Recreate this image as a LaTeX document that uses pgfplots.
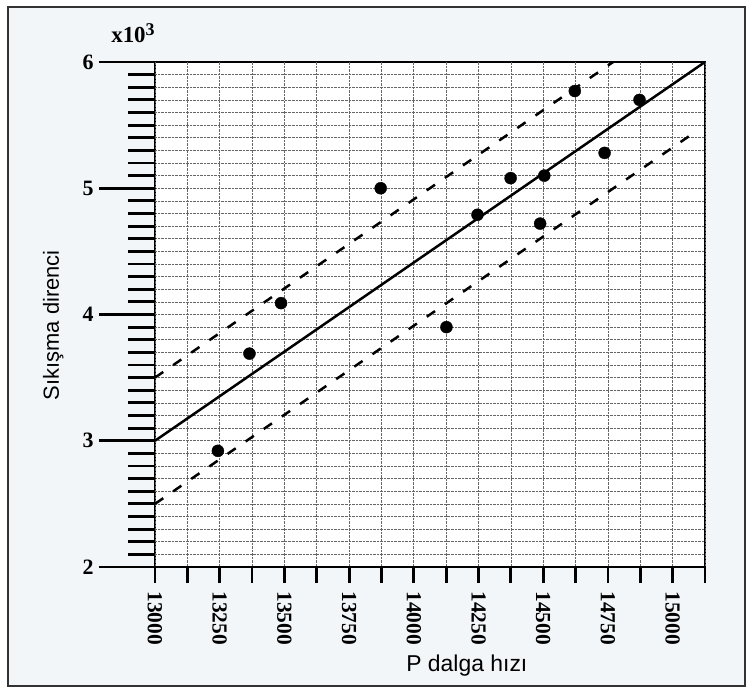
\documentclass[border=0pt]{standalone}
\usepackage{pgfplots}
\pgfplotsset{compat=1.18}
\usepackage{fontspec}
\setmainfont{Liberation Serif}
\newfontfamily\arial{Liberation Sans}

\begin{document}
\begin{tikzpicture}
\path[use as bounding box] (-155bp,-127bp) rectangle (596bp,567bp);
\fill[fill={rgb,255:red,243;green,246;blue,249}] (-147bp,-119bp) rectangle (590bp,560bp);
\draw[line width=1.5bp, black!80] (-147bp,-119bp) rectangle (590bp,560bp);
\begin{axis}[
  at={(0,0)}, anchor=south west,
  scale only axis, width=550bp, height=505bp,
  xmin=13000, xmax=15125, ymin=2, ymax=6,
  scaled ticks=false,
  axis background/.style={fill=white},
  axis line style={line width=2.5bp},
  tick align=outside, tick pos=left,
  tick style={line width=2.8bp, black},
  major tick length=27bp,
  % short x ticks every 125, labelled every 250
  xtick=\empty,
  extra x ticks={13000,13125,...,15125},
  extra x tick labels={13000,,13250,,13500,,13750,,14000,,14250,,14500,,14750,,15000,},
  extra x tick style={major tick length=16bp, grid=major},
  xticklabel style={rotate=-90, anchor=west, xshift=5bp, font=\bfseries\fontsize{21.5}{21.5}\selectfont},
  % y ticks every 0.1, long ticks with labels at integers
  ytick={2,2.1,...,6.05},
  yticklabels={},
  extra y ticks={2,3,4,5,6},
  extra y tick labels={2,3,4,5,6},
  extra y tick style={major tick length=56bp, grid=none},
  yticklabel style={font=\bfseries\fontsize{22}{22}\selectfont, xshift=-2bp},
  ymajorgrids,
  grid style={densely dotted, line width=0.7bp, black!60},
  xlabel={P dalga hızı}, ylabel={Sıkışma direnci},
  every axis x label/.style={at={(axis description cs:0.567,-0.196)}, anchor=center, font=\arial\fontsize{23}{23}\selectfont},
  every axis y label/.style={at={(axis description cs:-0.185,0.479)}, anchor=center, rotate=90, font=\arial\fontsize{22}{22}\selectfont},
  clip=false,
]
\addplot[black, line width=2.5bp] coordinates {(13000,3.0) (15125,6.0)};
\addplot[black, line width=2.5bp, dash pattern=on 10bp off 12bp] coordinates {(13000,3.5) (14770,6.0)};
\addplot[black, line width=2.5bp, dash pattern=on 10bp off 12bp] coordinates {(13000,2.5) (15090,5.45)};
\addplot[only marks, mark=*, mark size=6bp, black] coordinates {
  (13243,2.92) (13365,3.69) (13487,4.09) (13872,5.00)
  (14126,3.90) (14246,4.79) (14374,5.08) (14504,5.10)
  (14488,4.72) (14622,5.77) (14737,5.28) (14872,5.70)
};
\node[font=\bfseries\fontsize{23}{23}\selectfont] at (rel axis cs:-0.04,1.058) {x10\raisebox{7bp}{\fontsize{18}{18}\selectfont 3}};
\end{axis}
\end{tikzpicture}
\end{document}
